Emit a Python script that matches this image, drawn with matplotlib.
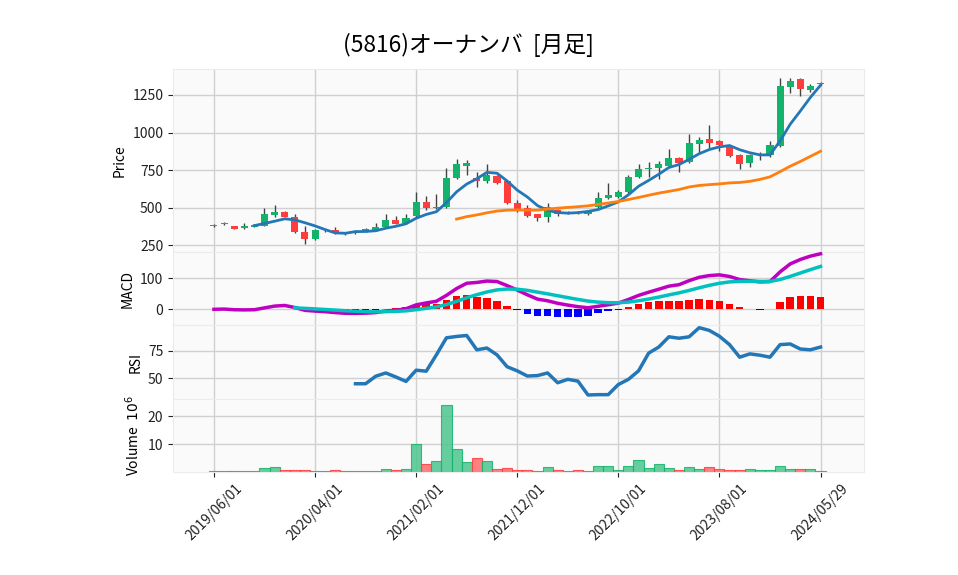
import matplotlib
matplotlib.use("Agg")
import matplotlib.pyplot as plt
import numpy as np
import pandas as pd

plt.rcParams["font.family"] = ["Noto Sans CJK JP", "DejaVu Sans"]
plt.rcParams["axes.unicode_minus"] = False

# --- monthly OHLCV -------------------------------------------------------
opens = [380, 392, 375, 362, 372, 380, 448, 470, 440, 340,
         288, 343, 348, 332, 330, 340, 350, 370, 420, 395,
         445, 535, 495, 505, 695, 780, 695, 675, 710, 675,
         530, 495, 455, 440, 485, 462, 470, 458, 505, 567,
         572, 605, 702, 755, 762, 778, 828, 806, 922, 957,
         945, 905, 850, 800, 848, 850, 910, 1305, 1357, 1280, 1330]
highs = [390, 405, 378, 395, 392, 497, 517, 480, 455, 379,
         355, 352, 370, 338, 350, 362, 397, 455, 443, 455,
         605, 579, 590, 761, 821, 817, 735, 788, 715, 680,
         550, 517, 460, 528, 492, 480, 478, 480, 605, 661,
         620, 720, 792, 805, 812, 888, 835, 988, 972, 1050,
         950, 910, 855, 860, 868, 943, 1365, 1361, 1365, 1320, 1335]
lows = [372, 385, 355, 358, 368, 375, 440, 435, 330, 257,
        283, 338, 325, 318, 325, 336, 345, 365, 388, 390,
        440, 485, 490, 500, 690, 717, 639, 665, 660, 525,
        470, 440, 412, 405, 445, 455, 455, 452, 500, 560,
        565, 600, 695, 705, 690, 770, 739, 795, 863, 900,
        880, 840, 755, 770, 817, 840, 905, 1261, 1245, 1270, 1318]
closes = [385, 395, 360, 375, 386, 455, 470, 440, 340, 290,
          350, 347, 330, 328, 345, 355, 370, 415, 392, 430,
          538, 497, 505, 695, 789, 797, 675, 717, 667, 530,
          492, 447, 432, 505, 460, 470, 465, 472, 567, 583,
          603, 702, 755, 762, 788, 828, 800, 928, 950, 927,
          917, 845, 788, 850, 855, 917, 1310, 1343, 1290, 1310, 1322]
volumes = [0.2, 0.2, 0.2, 0.2, 0.2, 1.3, 1.7, 0.6, 0.6, 0.6,
           0.2, 0.2, 0.6, 0.2, 0.2, 0.2, 0.2, 1.0, 0.6, 1.2,
           10.0, 2.8, 3.9, 24.1, 8.4, 3.5, 5.2, 3.9, 1.0, 1.3,
           0.8, 0.6, 0.5, 1.7, 0.6, 0.2, 0.6, 0.2, 2.3, 2.0,
           0.6, 2.3, 4.5, 1.6, 2.8, 1.6, 0.8, 1.9, 1.2, 1.9,
           1.2, 0.6, 0.6, 1.0, 0.6, 0.6, 2.3, 1.0, 1.0, 1.0, 0.2]  # x 10^6
rsi_vals = [45.1, 45.1, 51.9, 54.9, 51.2, 47.2, 57.4, 56.5, 71.3, 86.8,
            88.0, 88.9, 75.9, 77.5, 71.3, 60.5, 56.8, 52.1, 52.5, 54.9,
            46.0, 49.1, 47.5, 34.9, 35.2, 35.2, 44.4, 49.1, 56.8, 72.9,
            78.4, 87.7, 86.4, 87.7, 96.0, 93.5, 88.2, 80.6, 69.2, 72.2,
            71.0, 69.2, 80.6, 81.2, 76.6, 75.9, 78.4]  # RSI(14), from month 14
tick_pos = [0, 10, 20, 30, 40, 50, 60]
tick_labels = ["2019/06/01", "2020/04/01", "2021/02/01", "2021/12/01",
               "2022/10/01", "2023/08/01", "2024/05/29"]
title = "(5816)オーナンバ  [月足]"

UP = "#13b36b"
DOWN = "#ff3d3d"
VUP = "#4cc68e"
VDOWN = "#ff6b6b"
GRID = "#d0d0d0"
FACE = "#fafafa"

n = len(closes)
x = np.arange(n)
c = pd.Series(closes, dtype=float)
ma5 = c.rolling(5).mean()
ma25 = c.rolling(25).mean()
macd = c.ewm(span=12, adjust=False).mean() - c.ewm(span=26, adjust=False).mean()
signal = macd.ewm(span=9, adjust=False, min_periods=9).mean()
hist = macd - signal
up = np.array(closes) >= np.array(opens)

fig = plt.figure(figsize=(9.58, 5.75), dpi=100)
gs = fig.add_gridspec(4, 1, height_ratios=[5, 2, 2, 2], hspace=0,
                      left=173 / 958, right=864 / 958, top=1 - 69 / 575,
                      bottom=1 - 472 / 575)
axes = [fig.add_subplot(gs[i]) for i in range(4)]
for ax in axes[1:]:
    ax.sharex(axes[0])
ax_p, ax_m, ax_r, ax_v = axes

for ax in axes:
    ax.set_facecolor(FACE)
    ax.grid(True, color=GRID, lw=1.0)
    ax.set_axisbelow(True)
    for s in ax.spines.values():
        s.set_color("#ececec")
    ax.tick_params(colors="#222222", labelsize=10, length=3.5, width=0.8)
    ax.tick_params(axis="x", labelbottom=False)

# price panel
ax_p.vlines(x, lows, highs, color="#444444", lw=1.0, zorder=2)
body_lo = np.minimum(opens, closes)
body_h = np.maximum(np.abs(np.array(closes) - np.array(opens)), 3)
ax_p.bar(x, body_h, bottom=body_lo, width=0.7,
         color=[UP if u else DOWN for u in up], zorder=3)
ax_p.plot(x, ma5, color="#2477b6", lw=2.0, zorder=4)
ax_p.plot(x, ma25, color="#ff7f0e", lw=2.0, zorder=4)
ax_p.set_ylim(203, 1423)
ax_p.set_yticks([250, 500, 750, 1000, 1250])
ax_p.set_ylabel("Price", fontsize=10)

# MACD panel
ax_m.bar(x, hist, width=0.75,
         color=["#ff0000" if h >= 0 else "#0000ff" for h in hist.fillna(0)], zorder=2)
ax_m.plot(x, macd, color="#c000c0", lw=2.5, zorder=3)
ax_m.plot(x, signal, color="#00c0c0", lw=2.5, zorder=3)
ax_m.set_ylim(-52, 184)
ax_m.set_yticks([0, 100])
ax_m.set_ylabel("MACD", fontsize=10)

# RSI panel
ax_r.plot(x[n - len(rsi_vals):], rsi_vals, color="#2477b6", lw=2.5)
ax_r.set_ylim(31.5, 98)
ax_r.set_yticks([50, 75])
ax_r.set_ylabel("RSI", fontsize=10)

# volume panel
ax_v.bar(x, volumes, width=1.0, color=[VUP if u else VDOWN for u in up],
         edgecolor=[UP if u else DOWN for u in up], lw=0.8, alpha=0.85)
ax_v.set_ylim(0, 26.4)
ax_v.set_yticks([10, 20])
ax_v.set_ylabel("Volume  $10^6$", fontsize=10)
ax_v.tick_params(axis="x", labelbottom=True)
ax_v.set_xticks(tick_pos)
ax_v.set_xticklabels(tick_labels, rotation=45, ha="center", fontsize=10)
ax_v.set_xlim(-4.05, 64.3)

fig.text(0.489, 1 - 45 / 575, title, ha="center", va="center", fontsize=16.4)

fig.savefig("out.png", dpi=100)
